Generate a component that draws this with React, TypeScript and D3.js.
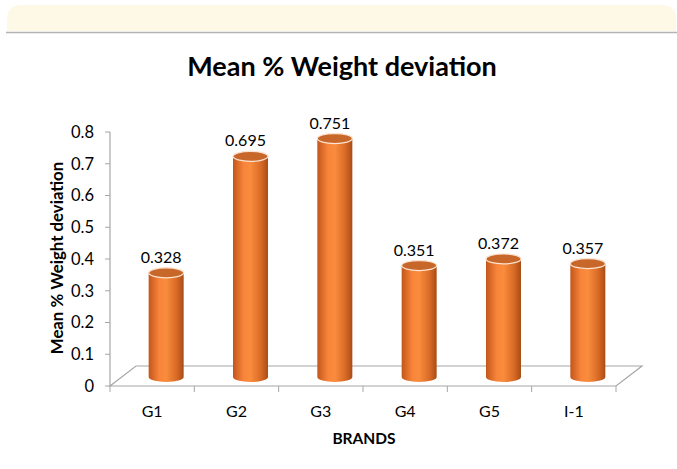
import React, { useRef, useEffect } from 'react';
import * as d3 from 'd3';

const brands = ['G1', 'G2', 'G3', 'G4', 'G5', 'I-1'];
const meanDeviation = [0.328, 0.695, 0.751, 0.351, 0.372, 0.357];
const yTicks = [0, 0.1, 0.2, 0.3, 0.4, 0.5, 0.6, 0.7, 0.8];

const FONT = 'Lato, "Open Sans", sans-serif';

export default function App() {
    const svgRef = useRef<SVGSVGElement | null>(null);

    useEffect(() => {
        const width = 677;
        const height = 469;
        const left = 110;
        const right = 616;
        const floorY = 386;
        const depthX = 26;
        const depthY = 20;
        const baseY = 377;

        const svg = d3.select(svgRef.current)
            .attr('width', width)
            .attr('height', height);
        svg.selectAll('*').remove();

        // header strip
        svg.append('path')
            .attr('d', 'M7,31 L7,20 Q7,5 22,5 L662,5 Q676,5 676,20 L676,31 Z')
            .attr('fill', '#fef9e6');
        svg.append('line')
            .attr('x1', 6).attr('x2', 677).attr('y1', 32.5).attr('y2', 32.5)
            .attr('stroke', '#b4b4b4').attr('stroke-width', 1.5);

        const defs = svg.append('defs');
        const grad = defs.append('linearGradient').attr('id', 'cyl')
            .attr('x1', '0%').attr('x2', '100%').attr('y1', '0%').attr('y2', '0%');
        grad.append('stop').attr('offset', '0%').attr('stop-color', '#c2561a');
        grad.append('stop').attr('offset', '30%').attr('stop-color', '#f8843a');
        grad.append('stop').attr('offset', '50%').attr('stop-color', '#fa8c3d');
        grad.append('stop').attr('offset', '80%').attr('stop-color', '#d86a26');
        grad.append('stop').attr('offset', '100%').attr('stop-color', '#a94c16');

        const x = d3.scaleBand<string>()
            .domain(brands)
            .range([left, right]);

        const y = d3.scaleLinear()
            .domain([0, 0.8])
            .range([floorY, 132]);

        const barH = d3.scaleLinear()
            .domain([0, 0.8])
            .range([baseY, baseY - (floorY - 132)]);

        // floor
        svg.append('path')
            .attr('d', `M${left},${floorY} L${left + depthX},${floorY - depthY} L${right + depthX},${floorY - depthY} L${right},${floorY} Z`)
            .attr('fill', '#ffffff')
            .attr('stroke', '#a6a6a6')
            .attr('stroke-width', 1.2);

        // y axis
        svg.append('line')
            .attr('x1', left).attr('x2', left)
            .attr('y1', y(0.8)).attr('y2', floorY)
            .attr('stroke', '#a6a6a6').attr('stroke-width', 1.2);
        const yg = svg.append('g');
        yg.selectAll('line').data(yTicks).enter().append('line')
            .attr('x1', left - 5).attr('x2', left)
            .attr('y1', d => y(d)).attr('y2', d => y(d))
            .attr('stroke', '#a6a6a6');
        yg.selectAll('text').data(yTicks).enter().append('text')
            .attr('x', left - 16)
            .attr('y', d => y(d))
            .attr('dy', '0.35em')
            .attr('text-anchor', 'end')
            .attr('font-family', FONT)
            .attr('font-size', 16.5)
            .attr('fill', '#000')
            .text(d => d3.format('')(d));

        // x ticks
        const xTickPos = brands.map(b => x(b) as number).concat([right]);
        svg.append('g').selectAll('line').data(xTickPos).enter().append('line')
            .attr('x1', d => d).attr('x2', d => d)
            .attr('y1', floorY).attr('y2', floorY + 6)
            .attr('stroke', '#a6a6a6');
        svg.append('g').selectAll('text').data(brands).enter().append('text')
            .attr('x', d => (x(d) as number) + x.bandwidth() / 2)
            .attr('y', 417)
            .attr('text-anchor', 'middle')
            .attr('font-family', FONT)
            .attr('font-size', 16)
            .attr('fill', '#000')
            .text(d => d);

        // cylinders
        const bw = 35;
        const ry = 5;
        const bars = svg.append('g').selectAll('g')
            .data(brands.map((b, i) => ({ b, v: meanDeviation[i] })))
            .enter().append('g');
        bars.each(function (d) {
            const g = d3.select(this);
            const cx = (x(d.b) as number) + x.bandwidth() / 2 + 14;
            const top = barH(d.v);
            const x0 = cx - bw / 2;
            const x1 = cx + bw / 2;
            g.append('path')
                .attr('d', `M${x0},${top} L${x0},${baseY} A${bw / 2},${ry} 0 0 0 ${x1},${baseY} L${x1},${top} Z`)
                .attr('fill', 'url(#cyl)');
            g.append('ellipse')
                .attr('cx', cx).attr('cy', top)
                .attr('rx', bw / 2).attr('ry', ry)
                .attr('fill', '#c8672a')
                .attr('stroke', '#fde3cf')
                .attr('stroke-width', 1.2);
            g.append('text')
                .attr('x', cx - 5)
                .attr('y', top - 10)
                .attr('text-anchor', 'middle')
                .attr('font-family', FONT)
                .attr('font-size', 16)
                .attr('fill', '#000')
                .text(d3.format('.3f')(d.v));
        });

        // titles
        svg.append('text')
            .attr('x', 342).attr('y', 76)
            .attr('text-anchor', 'middle')
            .attr('font-family', FONT)
            .attr('font-weight', 'bold')
            .attr('font-size', 27)
            .attr('fill', '#000')
            .text('Mean % Weight deviation');

        svg.append('text')
            .attr('x', 364).attr('y', 444)
            .attr('text-anchor', 'middle')
            .attr('font-family', FONT)
            .attr('font-weight', 'bold')
            .attr('font-size', 15.5)
            .attr('fill', '#000')
            .text('BRANDS');

        svg.append('text')
            .attr('transform', 'translate(63,258) rotate(-90)')
            .attr('text-anchor', 'middle')
            .attr('font-family', FONT)
            .attr('font-weight', 'bold')
            .attr('font-size', 16.8)
            .attr('fill', '#000')
            .text('Mean % Weight deviation');
    }, []);

    return (
        <svg ref={svgRef} style={{ position: 'absolute', left: 0, top: 0 }}></svg>
    );
}
